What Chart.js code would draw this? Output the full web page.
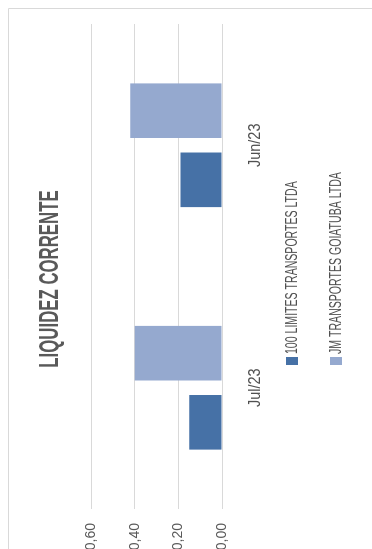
<!DOCTYPE html>
<html>
<head>
<meta charset="utf-8">
<script src="https://cdn.jsdelivr.net/npm/chart.js@4.4.1/dist/chart.umd.min.js"></script>
<style>
  html, body { margin: 0; padding: 0; background: #ffffff; overflow: hidden; }
  body { width: 372px; height: 549px; position: relative; }
  #wrap {
    position: absolute; left: 0; top: 0;
    width: 549px; height: 372px;
    transform-origin: 0 0;
    transform: translateY(549px) rotate(-90deg);
  }
  canvas { display: block; }
</style>
</head>
<body>
<div id="wrap"><canvas id="c" width="549" height="372"></canvas></div>
<script>
// ---- data ----
const categories = ['Jul/23', 'Jun/23'];
const seriesNames = ['100 LIMITES TRANSPORTES LTDA', 'JM TRANSPORTES GOIATUBA LTDA'];
const limitesValues = [0.15, 0.19];
const jmValues = [0.40, 0.42];
const yTickValues = [0, 0.2, 0.4, 0.6];
const chartTitle = 'LIQUIDEZ CORRENTE';

const colors = ['#4671A6', '#95A9CF'];
const textGray = '#595959';

function condensedText(ctx, text, x, y, font, sx, align, color) {
  ctx.save();
  ctx.font = font;
  ctx.fillStyle = color;
  ctx.textBaseline = 'alphabetic';
  ctx.textAlign = align;
  ctx.translate(x, y);
  ctx.scale(sx, 1);
  ctx.fillText(text, 0, 0);
  ctx.restore();
}

const decorPlugin = {
  id: 'decor',
  beforeDraw(chart) {
    const ctx = chart.ctx;
    ctx.save();
    ctx.strokeStyle = '#d9d9d9';
    ctx.lineWidth = 1;
    ctx.beginPath();
    ctx.moveTo(-2, 8.5);
    ctx.lineTo(540.5, 8.5);
    ctx.lineTo(540.5, 380);
    ctx.stroke();
    ctx.restore();
  },
  afterDraw(chart) {
    const ctx = chart.ctx;
    // title
    condensedText(ctx, chartTitle, 270, 58, 'bold 28px "Liberation Sans", Arial, sans-serif', 0.60, 'center', textGray);
    // category labels
    const xs = chart.scales.x;
    categories.forEach((c, i) => {
      condensedText(ctx, c, xs.getPixelForValue(i), 260, '17px "Liberation Sans", Arial, sans-serif', 0.85, 'center', '#505050');
    });
    // legend
    const rows = [{top: 286, base: 297}, {top: 330, base: 341}];
    seriesNames.forEach((name, i) => {
      ctx.save();
      ctx.fillStyle = colors[i];
      ctx.fillRect(184, rows[i].top, 8, 12);
      ctx.restore();
      condensedText(ctx, name, 195, rows[i].base, '16px "Liberation Sans", Arial, sans-serif', 0.66, 'left', '#505050');
    });
  }
};

new Chart(document.getElementById('c'), {
  type: 'bar',
  data: {
    labels: categories,
    datasets: [
      { label: seriesNames[0], data: limitesValues, backgroundColor: colors[0], borderWidth: 0,
        categoryPercentage: 0.57, barPercentage: 0.79 },
      { label: seriesNames[1], data: jmValues, backgroundColor: colors[1], borderWidth: 0,
        categoryPercentage: 0.57, barPercentage: 0.79 }
    ]
  },
  options: {
    responsive: false,
    animation: false,
    devicePixelRatio: 1,
    layout: { padding: { top: 91, right: 24, bottom: 150, left: 0 } },
    plugins: {
      legend: { display: false },
      title: { display: false },
      tooltip: { enabled: false }
    },
    scales: {
      x: {
        display: false,
        afterFit(s) { s.height = 0; }
      },
      y: {
        min: 0,
        max: 0.6,
        afterBuildTicks(s) { s.ticks = yTickValues.map(v => ({ value: v })); },
        afterFit(s) { s.width = 40; },
        grid: { color: '#d9d9d9', lineWidth: 1, drawTicks: false },
        border: { display: false },
        ticks: {
          padding: 14,
          color: textGray,
          font: { family: '"Liberation Sans", Arial, sans-serif', size: 14 },
          callback: v => Number(v).toFixed(2).replace('.', ',')
        }
      }
    }
  },
  plugins: [decorPlugin]
});
</script>
</body>
</html>
